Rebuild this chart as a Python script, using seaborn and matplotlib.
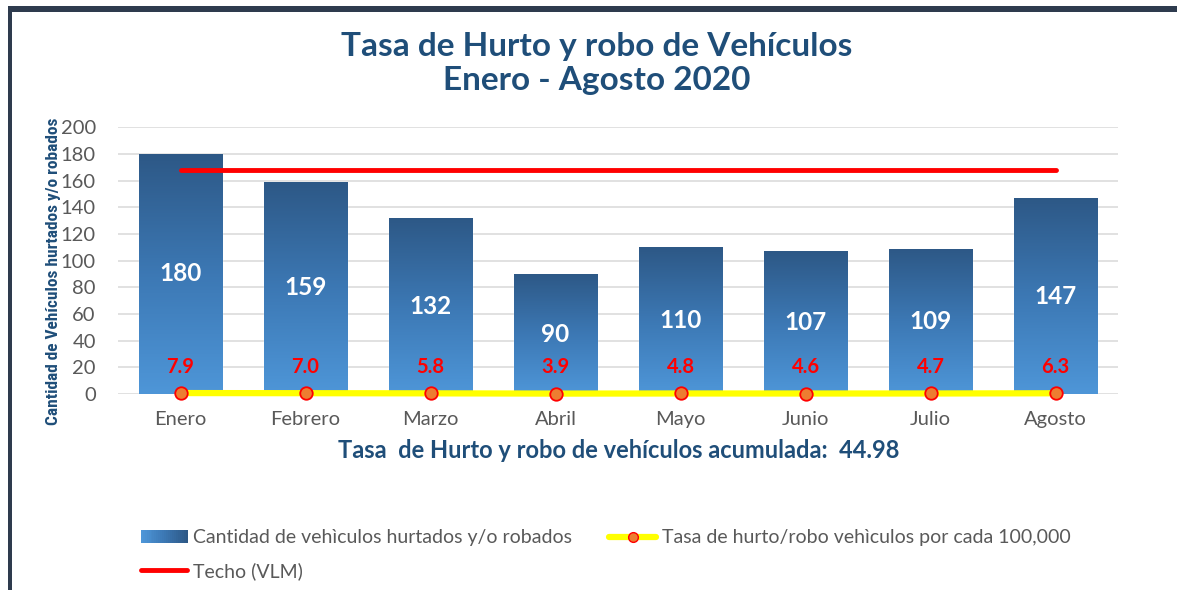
import matplotlib.pyplot as plt
import matplotlib.patches as mpatches
from matplotlib.lines import Line2D
from matplotlib.legend_handler import HandlerBase
from matplotlib.colors import LinearSegmentedColormap
import numpy as np
import pandas as pd
import seaborn as sns

meses = ["Enero", "Febrero", "Marzo", "Abril", "Mayo", "Junio", "Julio", "Agosto"]
cantidad = [180, 159, 132, 90, 110, 107, 109, 147]
tasa = [7.9, 7.0, 5.8, 3.9, 4.8, 4.6, 4.7, 6.3]
techo = [168] * len(meses)
tasa_acumulada = 44.98

sns.set_style("white")
plt.rcParams["font.family"] = ["Lato", "DejaVu Sans"]

azul_titulo = "#1f4e79"
gris = "#595959"

cmap = LinearSegmentedColormap.from_list("barra", ["#4e96d8", "#3c78b4", "#2d5886"])


class GradientHandler(HandlerBase):
    # legend key drawn as a left-to-right gradient made of thin strips
    def create_artists(self, legend, orig_handle, xdescent, ydescent, width, height, fontsize, trans):
        n = 24
        arts = []
        for k in range(n):
            r = mpatches.Rectangle((-xdescent + width * k / n, -ydescent), width / n + 0.3, height,
                                   facecolor=cmap(k / (n - 1)), edgecolor="none", transform=trans)
            arts.append(r)
        return arts


fig = plt.figure(figsize=(11.77, 5.9), dpi=100)
ax = fig.add_axes([0.1003, 0.332, 0.8496, 0.4525])

df = pd.DataFrame({"mes": meses, "cantidad": cantidad})
sns.barplot(data=df, x="mes", y="cantidad", color="#3f7fbf", width=0.67, ax=ax, zorder=2)

# vertical gradient inside each bar
grad = np.linspace(0, 1, 256).reshape(-1, 1)
for bar in ax.patches:
    x0, y0 = bar.get_x(), bar.get_y()
    w, h = bar.get_width(), bar.get_height()
    im = ax.imshow(grad, cmap=cmap, origin="lower", aspect="auto",
                   extent=[x0, x0 + w, y0, y0 + h], zorder=2.1)
    im.set_clip_path(bar)
    ax.text(x0 + w / 2, h / 2, f"{h:.0f}", ha="center", va="center", color="white",
            fontsize=17.5, fontweight="bold", zorder=5)

ax.set_xlim(-0.5, len(meses) - 0.5)
ax.set_ylim(0, 200)
ax.set_yticks(range(0, 201, 20))
ax.yaxis.grid(True, color="#dcdcdc", linewidth=1.2, zorder=0)
ax.set_axisbelow(True)
for s in ax.spines.values():
    s.set_visible(False)
ax.tick_params(axis="both", length=0, labelsize=14.5, labelcolor=gris)
ax.tick_params(axis="y", labelright=True, pad=16)
ax.tick_params(axis="x", pad=12)
ax.set_xlabel("")
ax.set_ylabel("Cantidad de Vehículos hurtados y/o robados", color=azul_titulo,
              fontsize=12.5, fontweight="bold",
              family=["Liberation Sans Narrow", "Roboto Condensed", "Lato"])
ax.yaxis.set_label_coords(-0.057, 0.46)

# techo line
ax.plot(range(len(meses)), techo, color="#ff0000", linewidth=3.5, zorder=4)

# tasa series on its own scale
ax2 = ax.twinx()
ax2.set_ylim(0, 2000)
ax2.axis("off")
ax2.plot(range(len(meses)), tasa, color="#ffff00", linewidth=4.5, zorder=3,
         marker="o", markersize=9, markerfacecolor="#ed7d31",
         markeredgecolor="#ff0000", markeredgewidth=1.3, clip_on=False)
ax2.set_xlim(-0.5, len(meses) - 0.5)
for i, t in enumerate(tasa):
    ax.text(i, 20, f"{t:.1f}", ha="center", va="center", color="#ff0000",
            fontsize=14.5, fontweight="bold", zorder=5)

fig.text(0.507, 0.922, "Tasa de Hurto y robo de Vehículos", ha="center", va="center",
         fontsize=24, fontweight="bold", color=azul_titulo)
fig.text(0.507, 0.863, "Enero - Agosto 2020", ha="center", va="center",
         fontsize=24, fontweight="bold", color=azul_titulo)
fig.text(0.526, 0.236, f"Tasa  de Hurto y robo de vehículos acumulada:  {tasa_acumulada:.2f}",
         ha="center", va="center", fontsize=17, fontweight="bold", color=azul_titulo)

handles = [
    mpatches.Patch(facecolor="#3c78b4", edgecolor="none"),
    Line2D([], [], color="#ff0000", linewidth=3.5),
    Line2D([], [], color="#ffff00", linewidth=4.5, marker="o", markersize=7,
           markerfacecolor="#ed7d31", markeredgecolor="#ff0000"),
]
labels = [
    "Cantidad de vehìculos hurtados y/o robados",
    "Techo (VLM)",
    "Tasa de hurto/robo vehìculos por cada 100,000",
]
fig.legend(handles, labels, loc="upper left", bbox_to_anchor=(0.113, 0.116),
           ncol=2, frameon=False, fontsize=14, labelcolor=gris, handlelength=2.4,
           handletextpad=0.3, columnspacing=1.9, labelspacing=0.8, borderaxespad=0,
           handler_map={mpatches.Patch: GradientHandler()})

# frame border
borde = "#2e3b4e"
fig.patches.append(mpatches.Rectangle((0.007, 0.0), 0.0035, 0.988, transform=fig.transFigure,
                                      facecolor=borde, edgecolor="none"))
fig.patches.append(mpatches.Rectangle((0.007, 0.980), 0.993, 0.009, transform=fig.transFigure,
                                      facecolor=borde, edgecolor="none"))

fig.savefig("out.png", dpi=100)
